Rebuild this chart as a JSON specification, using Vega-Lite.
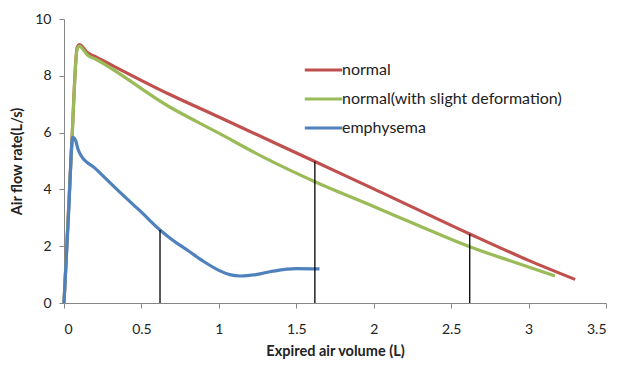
{
  "$schema": "https://vega.github.io/schema/vega-lite/v6.json",
  "width": 542,
  "height": 284,
  "autosize": {"type": "none"},
  "padding": {"left": 64, "top": 19, "right": 15, "bottom": 68},
  "background": "white",
  "config": {
    "view": {"stroke": null},
    "font": "Lato",
    "axis": {
      "domainColor": "#868686",
      "tickColor": "#868686",
      "grid": false,
      "labelFont": "Lato",
      "labelFontSize": 14,
      "labelColor": "#222222",
      "titleFont": "Lato",
      "titleFontSize": 14.5,
      "titleFontWeight": "bold",
      "titleColor": "#222222",
      "tickSize": 5
    }
  },
  "datasets": {
    "curves": [
      {"series": "normal", "volume": 0, "flow": 0},
      {"series": "normal", "volume": 0.05, "flow": 5.6},
      {"series": "normal", "volume": 0.085, "flow": 9.0},
      {"series": "normal", "volume": 0.1, "flow": 9.1},
      {"series": "normal", "volume": 0.12, "flow": 9.02},
      {"series": "normal", "volume": 0.15, "flow": 8.82},
      {"series": "normal", "volume": 0.2, "flow": 8.68},
      {"series": "normal", "volume": 0.68, "flow": 7.35},
      {"series": "normal", "volume": 1.0, "flow": 6.55},
      {"series": "normal", "volume": 1.62, "flow": 4.98},
      {"series": "normal", "volume": 2.0, "flow": 4.02},
      {"series": "normal", "volume": 2.62, "flow": 2.43},
      {"series": "normal", "volume": 3.0, "flow": 1.5},
      {"series": "normal", "volume": 3.3, "flow": 0.83},
      {"series": "normal(with slight deformation)", "volume": 0, "flow": 0},
      {"series": "normal(with slight deformation)", "volume": 0.05, "flow": 5.6},
      {"series": "normal(with slight deformation)", "volume": 0.085, "flow": 8.95},
      {"series": "normal(with slight deformation)", "volume": 0.1, "flow": 9.05},
      {"series": "normal(with slight deformation)", "volume": 0.12, "flow": 8.95},
      {"series": "normal(with slight deformation)", "volume": 0.15, "flow": 8.74},
      {"series": "normal(with slight deformation)", "volume": 0.2, "flow": 8.6},
      {"series": "normal(with slight deformation)", "volume": 0.68, "flow": 6.91},
      {"series": "normal(with slight deformation)", "volume": 1.0, "flow": 5.98},
      {"series": "normal(with slight deformation)", "volume": 1.3, "flow": 5.1},
      {"series": "normal(with slight deformation)", "volume": 1.62, "flow": 4.27},
      {"series": "normal(with slight deformation)", "volume": 2.0, "flow": 3.4},
      {"series": "normal(with slight deformation)", "volume": 2.3, "flow": 2.7},
      {"series": "normal(with slight deformation)", "volume": 2.62, "flow": 1.98},
      {"series": "normal(with slight deformation)", "volume": 2.9, "flow": 1.45},
      {"series": "normal(with slight deformation)", "volume": 3.17, "flow": 0.95},
      {"series": "emphysema", "volume": 0, "flow": 0},
      {"series": "emphysema", "volume": 0.03, "flow": 3.2},
      {"series": "emphysema", "volume": 0.056, "flow": 5.83},
      {"series": "emphysema", "volume": 0.075, "flow": 5.72},
      {"series": "emphysema", "volume": 0.09, "flow": 5.42},
      {"series": "emphysema", "volume": 0.108, "flow": 5.21},
      {"series": "emphysema", "volume": 0.2, "flow": 4.75},
      {"series": "emphysema", "volume": 0.3, "flow": 4.22},
      {"series": "emphysema", "volume": 0.4, "flow": 3.7},
      {"series": "emphysema", "volume": 0.49, "flow": 3.25},
      {"series": "emphysema", "volume": 0.62, "flow": 2.57},
      {"series": "emphysema", "volume": 0.7, "flow": 2.22},
      {"series": "emphysema", "volume": 0.8, "flow": 1.85},
      {"series": "emphysema", "volume": 0.9, "flow": 1.47},
      {"series": "emphysema", "volume": 1.0, "flow": 1.15},
      {"series": "emphysema", "volume": 1.07, "flow": 1.0},
      {"series": "emphysema", "volume": 1.14, "flow": 0.95},
      {"series": "emphysema", "volume": 1.24, "flow": 1.0},
      {"series": "emphysema", "volume": 1.35, "flow": 1.12},
      {"series": "emphysema", "volume": 1.5, "flow": 1.21},
      {"series": "emphysema", "volume": 1.65, "flow": 1.2}
    ],
    "markers": [
      {"volume": 0.62, "low": 0, "high": 2.57},
      {"volume": 1.62, "low": 0, "high": 4.98},
      {"volume": 2.62, "low": 0, "high": 2.43}
    ]
  },
  "layer": [
    {
      "data": {"name": "curves"},
      "mark": {"type": "line", "strokeWidth": 3.2, "interpolate": "monotone"},
      "encoding": {
        "x": {
          "field": "volume", "type": "quantitative",
          "scale": {"domain": [0, 3.5], "nice": false},
          "axis": {"values": [0, 0.5, 1, 1.5, 2, 2.5, 3, 3.5], "format": "~g", "title": "Expired air volume (L)", "labelPadding": 14, "titlePadding": 8}
        },
        "y": {
          "field": "flow", "type": "quantitative",
          "scale": {"domain": [0, 10], "nice": false},
          "axis": {"values": [0, 2, 4, 6, 8, 10], "title": "Air flow rate(L/s)", "labelPadding": 8, "titlePadding": 10}
        },
        "color": {
          "field": "series", "type": "nominal",
          "scale": {
            "domain": ["normal", "normal(with slight deformation)", "emphysema"],
            "range": ["#C0504D", "#9BBB59", "#4F81BD"]
          },
          "legend": {
            "title": null,
            "orient": "none",
            "legendX": 239,
            "legendY": 30.5,
            "symbolType": "stroke",
            "symbolSize": 1400,
            "symbolStrokeWidth": 3.2,
            "labelFont": "Lato",
            "labelFontSize": 16,
            "labelColor": "#222222",
            "labelLimit": 400,
            "labelOffset": -2,
            "rowPadding": -12.5
          }
        },
        "sort": null
      }
    },
    {
      "data": {"name": "markers"},
      "mark": {"type": "rule", "color": "#000000", "strokeWidth": 1.3},
      "encoding": {
        "x": {"field": "volume", "type": "quantitative"},
        "y": {"field": "low", "type": "quantitative"},
        "y2": {"field": "high"}
      }
    }
  ]
}
